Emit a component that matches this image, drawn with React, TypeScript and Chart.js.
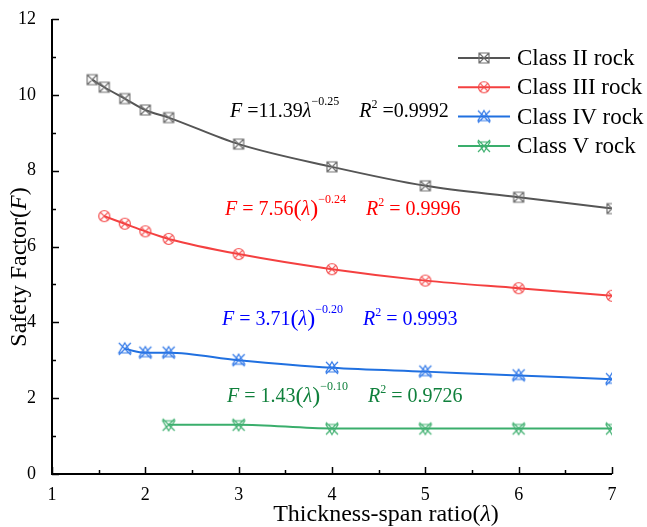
import React, { useEffect, useRef } from "react";
import { Chart, registerables } from "chart.js";
Chart.register(...registerables);

const seriesNames = ["Class II rock", "Class III rock", "Class IV rock", "Class V rock"];
const classIIx = [1.43, 1.56, 1.78, 2.0, 2.25, 3, 4, 5, 6, 7];
const classIIy = [10.4, 10.2, 9.9, 9.6, 9.4, 8.7, 8.1, 7.6, 7.3, 7.0];
const classIIIx = [1.56, 1.78, 2.0, 2.25, 3, 4, 5, 6, 7];
const classIIIy = [6.8, 6.6, 6.4, 6.2, 5.8, 5.4, 5.1, 4.9, 4.7];
const classIVx = [1.78, 2.0, 2.25, 3, 4, 5, 6, 7];
const classIVy = [3.3, 3.2, 3.2, 3.0, 2.8, 2.7, 2.6, 2.5];
const classVx = [2.25, 3, 4, 5, 6, 7];
const classVy = [1.3, 1.3, 1.2, 1.2, 1.2, 1.2];

const lineColors = ["#555555", "#f44040", "#2070e0", "#3aae6c"];
const markerColors = ["#707070", "#f44848", "#3078e8", "#40b070"];
const eqColors = ["#000000", "#ff0000", "#0000ff", "#10803c"];
const markerKinds = ["squareX", "circleX", "xTriUp", "xTriDown"];

const SERIF = '"Liberation Serif", "Times New Roman", serif';

type Seg = { t: string; it?: boolean; sz?: number; dy?: number };

function makeMarker(kind: string, color: string): HTMLCanvasElement {
  const s = 16;
  const c = document.createElement("canvas");
  c.width = s;
  c.height = s;
  const ctx = c.getContext("2d")!;
  ctx.strokeStyle = color;
  ctx.lineWidth = 1.2;
  const m = s / 2;
  ctx.beginPath();
  if (kind === "squareX") {
    const h = 5;
    ctx.rect(m - h, m - h, 2 * h, 2 * h);
    ctx.moveTo(m - h, m - h);
    ctx.lineTo(m + h, m + h);
    ctx.moveTo(m + h, m - h);
    ctx.lineTo(m - h, m + h);
  } else if (kind === "circleX") {
    const r = 5.5;
    ctx.arc(m, m, r, 0, Math.PI * 2);
    const d = r * 0.707;
    ctx.moveTo(m - d, m - d);
    ctx.lineTo(m + d, m + d);
    ctx.moveTo(m + d, m - d);
    ctx.lineTo(m - d, m + d);
  } else {
    const h = 6;
    ctx.moveTo(m - h, m - h);
    ctx.lineTo(m + h, m + h);
    ctx.moveTo(m + h, m - h);
    ctx.lineTo(m - h, m + h);
    if (kind === "xTriUp") {
      ctx.moveTo(m, m - h);
      ctx.lineTo(m + h, m + 4);
      ctx.lineTo(m - h, m + 4);
      ctx.closePath();
    } else {
      ctx.moveTo(m, m + h);
      ctx.lineTo(m + h, m - 4);
      ctx.lineTo(m - h, m - 4);
      ctx.closePath();
    }
  }
  ctx.stroke();
  return c;
}

function drawSegs(ctx: CanvasRenderingContext2D, segs: Seg[], x: number, y: number, base: number, color: string, center = false) {
  const fonts = segs.map((s) => `${s.it ? "italic " : ""}${s.sz || base}px ${SERIF}`);
  const widths = segs.map((s, i) => {
    ctx.font = fonts[i];
    return ctx.measureText(s.t).width;
  });
  const total = widths.reduce((a, b) => a + b, 0);
  let cx = center ? x - total / 2 : x;
  ctx.fillStyle = color;
  ctx.textAlign = "left";
  ctx.textBaseline = "alphabetic";
  segs.forEach((s, i) => {
    ctx.font = fonts[i];
    ctx.fillText(s.t, cx, y + (s.dy || 0));
    cx += widths[i];
  });
}

function eqSegs(coef: string, exp: string, r2: string, paren: boolean): Seg[] {
  const main: Seg[] = paren
    ? [{ t: "F", it: true }, { t: " = " + coef }, { t: "(", sz: 24, dy: 1 }, { t: "λ", it: true }, { t: ")", sz: 24, dy: 1 }]
    : [{ t: "F", it: true }, { t: " =" + coef }, { t: "λ", it: true }];
  return [
    ...main,
    { t: exp, sz: 12, dy: -12 },
    { t: "    " },
    { t: "R", it: true },
    { t: "2", sz: 12, dy: -9 },
    { t: paren ? " = " + r2 : " =" + r2 },
  ];
}

const equations = [
  { segs: eqSegs("11.39", "−0.25", "0.9992", false), x: 230, y: 117 },
  { segs: eqSegs("7.56", "−0.24", "0.9996", true), x: 225, y: 215 },
  { segs: eqSegs("3.71", "−0.20", "0.9993", true), x: 222, y: 325 },
  { segs: eqSegs("1.43", "−0.10", "0.9726", true), x: 227, y: 402 },
];

export default function App() {
  const ref = useRef<HTMLCanvasElement>(null);
  useEffect(() => {
    document.body.style.margin = "0";
    const markers = markerKinds.map((k, i) => makeMarker(k, markerColors[i]));
    const xs = [classIIx, classIIIx, classIVx, classVx];
    const ys = [classIIy, classIIIy, classIVy, classVy];
    const datasets = seriesNames.map((name, i) => ({
      label: name,
      data: xs[i].map((x, j) => ({ x, y: ys[i][j] })),
      borderColor: lineColors[i],
      backgroundColor: lineColors[i],
      borderWidth: 2,
      pointStyle: markers[i] as any,
      pointRadius: 6,
      tension: 0.4,
      cubicInterpolationMode: "monotone" as const,
    }));

    const decor = {
      id: "decor",
      afterDraw(chart: any) {
        const ctx: CanvasRenderingContext2D = chart.ctx;
        const { left, right, top, bottom } = chart.chartArea;
        const xs_ = chart.scales.x;
        const ys_ = chart.scales.y;
        ctx.save();
        ctx.strokeStyle = "#000";
        ctx.lineWidth = 2;
        ctx.beginPath();
        ctx.moveTo(left, top);
        ctx.lineTo(left, bottom);
        ctx.lineTo(right, bottom);
        ctx.stroke();
        ctx.lineWidth = 1.5;
        ctx.beginPath();
        for (let v = 0; v <= 12; v++) {
          const py = Math.round(ys_.getPixelForValue(v)) + 0.5;
          const len = v % 2 === 0 ? 7 : 4;
          ctx.moveTo(left, py);
          ctx.lineTo(left + len, py);
        }
        for (let k = 2; k <= 14; k++) {
          const v = k / 2;
          const px = Math.round(xs_.getPixelForValue(v)) + 0.5;
          const len = k % 2 === 0 ? 7 : 4;
          ctx.moveTo(px, bottom);
          ctx.lineTo(px, bottom - len);
        }
        ctx.stroke();

        // equations
        equations.forEach((e, i) => drawSegs(ctx, e.segs, e.x, e.y, 20, eqColors[i]));

        // legend
        seriesNames.forEach((name, i) => {
          const ly = 58 + i * 29.3;
          ctx.strokeStyle = lineColors[i];
          ctx.lineWidth = 2;
          ctx.beginPath();
          ctx.moveTo(458, ly);
          ctx.lineTo(510, ly);
          ctx.stroke();
          ctx.drawImage(markers[i], 484 - 8, ly - 8);
          ctx.fillStyle = "#000";
          ctx.font = `23px ${SERIF}`;
          ctx.textAlign = "left";
          ctx.textBaseline = "middle";
          ctx.fillText(name, 517, ly + 1);
        });

        // axis titles
        drawSegs(ctx, [{ t: "Thickness-span ratio(" }, { t: "λ", it: true }, { t: ")" }], 386, 521, 24, "#000", true);
        ctx.save();
        ctx.translate(26, 267);
        ctx.rotate(-Math.PI / 2);
        drawSegs(ctx, [{ t: "Safety Factor(" }, { t: "F", it: true }, { t: ")" }], 0, 0, 24, "#000", true);
        ctx.restore();
        ctx.restore();
      },
    };

    const chart = new Chart(ref.current!, {
      type: "line",
      data: { datasets },
      options: {
        animation: false,
        responsive: false,
        maintainAspectRatio: false,
        layout: { padding: { top: 19, right: 35, left: 0, bottom: 0 } },
        plugins: { legend: { display: false }, tooltip: { enabled: false } },
        scales: {
          x: {
            type: "linear",
            min: 1,
            max: 7,
            ticks: {
              stepSize: 0.5,
              autoSkip: false,
              maxRotation: 0,
              padding: 2,
              color: "#000",
              font: { family: SERIF, size: 18 },
              callback: (v: any) => (Number.isInteger(v) ? String(v) : ""),
            },
            grid: { display: false },
            border: { display: false },
            afterFit: (s: any) => {
              s.height = 53;
            },
          },
          y: {
            type: "linear",
            min: 0,
            max: 12,
            ticks: {
              stepSize: 1,
              autoSkip: false,
              padding: 8,
              color: "#000",
              font: { family: SERIF, size: 18 },
              callback: (v: any) => (v % 2 === 0 ? String(v) : ""),
            },
            grid: { display: false },
            border: { display: false },
            afterFit: (s: any) => {
              s.width = 52;
            },
          },
        },
      },
      plugins: [decor],
    });
    return () => chart.destroy();
  }, []);
  return (
    <div style={{ width: 647, height: 527 }}>
      <canvas ref={ref} width={647} height={527} />
    </div>
  );
}
